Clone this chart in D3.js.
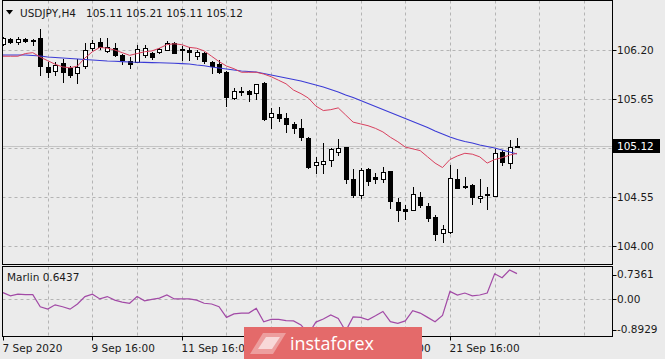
<!DOCTYPE html>
<html lang="en">
<head>
  <meta charset="UTF-8" />
  <title>USDJPY,H4</title>
  <style>
    body { margin: 0; background: #ebebeb; }
    svg { display: block; }
    text { font-family: 'DejaVu Sans', sans-serif; font-size: 10.5px; fill: #1a1a1a; }
    .grid { stroke: #b4b4b4; stroke-width: 1; stroke-dasharray: 3,3; }
    .frame { fill: none; stroke: #000; stroke-width: 1; }
    .wick { stroke: #000; stroke-width: 1; }
  </style>
  <script src="https://d3js.org/d3.v7.min.js"></script>
</head>
<body>
<svg id="chart" width="665" height="359"></svg>
<script>
// H4 bars, oldest first
const opens = [106.267,106.323,106.290,106.323,106.312,106.335,106.009,105.964,106.054,105.998,
  105.942,106.020,106.222,106.290,106.189,106.222,106.144,106.076,106.065,106.144,
  106.166,106.177,106.200,106.278,106.211,106.200,106.133,106.166,106.065,106.043,
  105.953,105.661,105.734,105.740,105.717,105.829,105.448,105.482,105.437,105.369,
  105.324,105.212,104.909,104.920,104.965,105.055,105.111,104.752,104.573,104.864,
  104.775,104.752,104.842,104.494,104.415,104.404,104.550,104.449,104.326,104.146,
  104.157,104.752,104.668,104.685,104.539,104.578,104.561,105.055,104.932,105.11];
const highs = [106.346,106.335,106.346,106.335,106.318,106.436,106.065,106.065,106.099,106.020,
  106.099,106.278,106.312,106.335,106.335,106.278,106.155,106.121,106.256,106.256,
  106.177,106.222,106.301,106.290,106.245,106.234,106.200,106.177,106.076,106.088,
  105.960,105.773,105.785,105.751,105.820,105.841,105.549,105.560,105.493,105.392,
  105.425,105.223,104.999,105.156,105.100,105.201,105.115,104.864,104.876,104.876,
  104.819,104.887,104.845,104.539,104.460,104.662,104.606,104.483,104.348,104.236,
  104.909,104.864,104.775,104.690,104.752,104.662,105.089,105.078,105.190,105.21];
const lows = [106.256,106.278,106.267,106.290,106.256,105.919,105.897,105.919,105.841,105.897,
  105.829,105.998,106.200,106.211,106.177,106.133,106.043,105.998,106.065,106.121,
  106.099,106.166,106.200,106.166,106.088,106.088,106.099,106.054,105.942,105.942,
  105.571,105.650,105.695,105.627,105.650,105.414,105.324,105.403,105.280,105.268,
  105.190,104.876,104.819,104.819,104.898,105.021,104.707,104.550,104.539,104.685,
  104.707,104.718,104.427,104.281,104.303,104.400,104.438,104.281,104.067,104.045,
  104.150,104.651,104.651,104.472,104.494,104.415,104.555,104.909,104.876,105.11];
const closes = [106.335,106.290,106.323,106.301,106.301,106.020,105.953,106.032,105.953,105.919,
  106.009,106.200,106.278,106.234,106.234,106.144,106.088,106.043,106.211,106.222,
  106.121,106.211,106.278,106.166,106.200,106.177,106.177,106.076,106.020,105.953,
  105.672,105.740,105.723,105.706,105.818,105.425,105.493,105.437,105.369,105.324,
  105.223,104.887,104.943,104.954,105.089,105.100,104.752,104.573,104.853,104.730,
  104.752,104.831,104.505,104.404,104.393,104.584,104.460,104.314,104.135,104.191,
  104.763,104.655,104.657,104.550,104.561,104.567,105.044,104.943,105.111,105.12];

// moving averages
const maFast = [106.13,106.13,106.13,106.16,106.17,106.12,106.08,106.04,106.01,106.00,
  106.02,106.11,106.18,106.23,106.22,106.20,106.17,106.14,106.16,106.18,
  106.19,106.22,106.26,106.27,106.26,106.23,106.22,106.19,106.13,106.07,
  106.02,105.99,105.95,105.95,105.95,105.93,105.90,105.86,105.82,105.75,
  105.71,105.66,105.57,105.52,105.53,105.55,105.47,105.39,105.37,105.35,
  105.32,105.28,105.22,105.17,105.11,105.09,105.07,105.00,104.93,104.88,
  104.97,105.01,105.04,105.03,105.00,104.93,104.97,104.99,105.02,105.04];
const maSlow = [106.144,106.144,106.144,106.144,106.138,106.133,106.121,106.116,106.110,106.104,
  106.099,106.093,106.088,106.082,106.076,106.073,106.070,106.065,106.063,106.061,
  106.058,106.056,106.054,106.051,106.047,106.043,106.032,106.024,106.009,105.998,
  105.987,105.975,105.964,105.959,105.953,105.936,105.919,105.902,105.886,105.869,
  105.852,105.829,105.807,105.785,105.757,105.728,105.695,105.667,105.633,105.599,
  105.566,105.532,105.498,105.465,105.431,105.397,105.364,105.330,105.291,105.257,
  105.223,105.195,105.173,105.156,105.134,105.117,105.100,105.078,105.055,105.033];

// Marlin oscillator
const marlin = [0.16,0.08,0.12,0.11,0.11,-0.20,-0.26,-0.15,-0.20,-0.26,
  -0.13,0.06,0.12,0.00,0.06,-0.03,-0.08,-0.11,0.06,-0.05,
  -0.01,0.02,0.10,0.00,0.00,0.00,-0.03,-0.11,-0.13,-0.20,
  -0.47,-0.38,-0.36,-0.36,-0.24,-0.58,-0.52,-0.52,-0.55,-0.56,
  -0.66,-0.8929,-0.59,-0.51,-0.41,-0.50,-0.82,-0.46,-0.47,-0.53,
  -0.43,-0.32,-0.58,-0.62,-0.56,-0.30,-0.36,-0.47,-0.58,-0.42,
  0.19,0.10,0.15,0.08,0.10,0.15,0.64,0.54,0.7361,0.6437];

const gridLevels = [106.20, 105.65, 105.10, 104.55, 104.00];
const priceLabels = [106.20, 105.65, 104.55, 104.00];
const lastPrice = 105.12;
const marlinLabels = [0.7361, 0.00, -0.8929];
const timeLabels = ['7 Sep 2020', '9 Sep 16:00', '11 Sep 16:00', '15 Sep 16:00', '17 Sep 16:00', '21 Sep 16:00'];
const timeLabelBars = [0, 12, 24, 36, 48, 60];
const title = 'USDJPY,H4   105.11 105.21 105.11 105.12';

const main = { left: 2.5, right: 612.5, top: 0.5, bottom: 264.5 };
const sub = { top: 266.5, bottom: 336.5 };

const svg = d3.select('#chart');

const x = d3.scaleLinear().domain([0, closes.length - 1]).range([3, 517]);
const y = d3.scaleLinear().domain([104.00, 106.20]).range([245.9, 50]);
const ym = d3.scaleLinear().domain([-0.8929, 0.7361]).range([334, 270]);

const bars = closes.map((c, i) => ({ i, o: opens[i], h: highs[i], l: lows[i], c }));

svg.append('rect').attr('width', 665).attr('height', 359).attr('fill', '#ebebeb');

const defs = svg.append('defs');
defs.append('clipPath').attr('id', 'clipMain').append('rect')
  .attr('x', main.left).attr('y', main.top)
  .attr('width', main.right - main.left).attr('height', main.bottom - main.top);
defs.append('clipPath').attr('id', 'clipSub').append('rect')
  .attr('x', main.left).attr('y', sub.top)
  .attr('width', main.right - main.left).attr('height', sub.bottom - sub.top);

// vertical grid every 6 bars, continues past the last bar
const gridBars = d3.range(6, 84, 6).filter(b => x(b) < main.right - 2);
[[main.top, main.bottom], [sub.top, sub.bottom]].forEach(([t, b]) => {
  svg.append('g').selectAll('line').data(gridBars).enter().append('line')
    .attr('class', 'grid')
    .attr('x1', d => Math.round(x(d)) + 0.5).attr('x2', d => Math.round(x(d)) + 0.5)
    .attr('y1', t).attr('y2', b);
});

svg.append('g').selectAll('line').data(gridLevels).enter().append('line')
  .attr('class', 'grid')
  .attr('x1', main.left).attr('x2', main.right)
  .attr('y1', d => Math.round(y(d)) + 0.5).attr('y2', d => Math.round(y(d)) + 0.5);

svg.append('line').attr('class', 'grid')
  .attr('x1', main.left).attr('x2', main.right)
  .attr('y1', Math.round(ym(0)) + 0.5).attr('y2', Math.round(ym(0)) + 0.5);

// bid line
svg.append('line')
  .attr('x1', main.left).attr('x2', main.right)
  .attr('y1', Math.round(y(lastPrice)) + 0.5).attr('y2', Math.round(y(lastPrice)) + 0.5)
  .attr('stroke', '#c4c4c4');

// candles
const cg = svg.append('g').attr('clip-path', 'url(#clipMain)');
cg.selectAll('line.wick').data(bars).enter().append('line')
  .attr('class', 'wick')
  .attr('x1', d => Math.round(x(d.i)) + 0.5).attr('x2', d => Math.round(x(d.i)) + 0.5)
  .attr('y1', d => Math.round(y(d.h))).attr('y2', d => Math.round(y(d.l)) + 1);

cg.selectAll('rect.body').data(bars).enter().append('rect')
  .attr('class', 'body')
  .each(function (d) {
    const cx = Math.round(x(d.i));
    const top = Math.round(y(Math.max(d.o, d.c)));
    const bot = Math.round(y(Math.min(d.o, d.c)));
    const el = d3.select(this);
    if (d.c >= d.o && bot - top >= 2) {
      el.attr('x', cx - 1.5).attr('y', top + 0.5).attr('width', 4).attr('height', bot - top)
        .attr('fill', '#fff').attr('stroke', '#000');
    } else {
      el.attr('x', cx - 2).attr('y', top).attr('width', 5).attr('height', Math.max(1, bot - top + 1))
        .attr('fill', '#000');
    }
  });

// moving averages
const lineFast = d3.line().x((d, i) => x(i)).y(d => y(d));
cg.append('path').datum(maSlow).attr('d', lineFast)
  .attr('fill', 'none').attr('stroke', '#3b3bd6').attr('stroke-width', 1.1);
cg.append('path').datum(maFast).attr('d', lineFast)
  .attr('fill', 'none').attr('stroke', '#d8405e').attr('stroke-width', 1);

// Marlin line
svg.append('path').datum(marlin).attr('clip-path', 'url(#clipSub)')
  .attr('d', d3.line().x((d, i) => x(i)).y(d => ym(d)))
  .attr('fill', 'none').attr('stroke', '#a24aa6').attr('stroke-width', 1.2);

// frames
svg.append('rect').attr('class', 'frame')
  .attr('x', main.left).attr('y', main.top)
  .attr('width', main.right - main.left).attr('height', main.bottom - main.top);
svg.append('rect').attr('class', 'frame')
  .attr('x', main.left).attr('y', sub.top)
  .attr('width', main.right - main.left).attr('height', sub.bottom - sub.top);

// right price axis
const pa = svg.append('g');
pa.selectAll('line').data(priceLabels).enter().append('line')
  .attr('x1', main.right).attr('x2', main.right + 4)
  .attr('y1', d => Math.round(y(d)) + 0.5).attr('y2', d => Math.round(y(d)) + 0.5)
  .attr('stroke', '#000');
pa.selectAll('text').data(priceLabels).enter().append('text')
  .attr('x', 617).attr('y', d => y(d)).attr('dy', '0.36em')
  .text(d => d.toFixed(2));

const yl = Math.round(y(lastPrice));
svg.append('rect').attr('x', 613).attr('y', yl - 7).attr('width', 47).attr('height', 14).attr('fill', '#000');
svg.append('text').attr('x', 617).attr('y', yl).attr('dy', '0.36em')
  .style('fill', '#fff').text(lastPrice.toFixed(2));

// indicator axis
const ma = svg.append('g');
const clampY = v => Math.max(sub.top + 8, Math.min(sub.bottom - 7, ym(v)));
ma.selectAll('line').data(marlinLabels).enter().append('line')
  .attr('x1', main.right).attr('x2', main.right + 4)
  .attr('y1', d => Math.round(clampY(d)) + 0.5).attr('y2', d => Math.round(clampY(d)) + 0.5)
  .attr('stroke', '#000');
ma.selectAll('text').data(marlinLabels).enter().append('text')
  .attr('x', 617).attr('y', d => clampY(d)).attr('dy', '0.36em')
  .text(d => (d === 0 ? '0.00' : d.toFixed(4)));

// time axis
const ta = svg.append('g');
ta.selectAll('line').data(timeLabelBars).enter().append('line')
  .attr('x1', d => Math.round(x(d)) + 0.5).attr('x2', d => Math.round(x(d)) + 0.5)
  .attr('y1', sub.bottom).attr('y2', sub.bottom + 4)
  .attr('stroke', '#000');
ta.selectAll('text').data(timeLabels).enter().append('text')
  .attr('x', (d, i) => Math.max(2, Math.round(x(timeLabelBars[i])) - 0.5))
  .attr('y', 352)
  .text(d => d);

// titles
svg.append('path').attr('d', 'M6,10 L13,10 L9.5,14.5 Z').attr('fill', '#000');
svg.append('text').attr('x', 20).attr('y', 17).style('white-space', 'pre').text(title);
svg.append('text').attr('x', 7).attr('y', 281).text('Marlin ' + marlin[marlin.length - 1].toFixed(4));

// watermark
const wm = svg.append('g');
wm.append('rect').attr('x', 244).attr('y', 327).attr('width', 178).attr('height', 36)
  .attr('fill', '#e46a6a');
wm.append('path').attr('d', 'M250,354 L263,333 L286,333 L273,354 Z')
  .attr('fill', '#ffffff').attr('opacity', 0.35);
wm.append('path').attr('d', 'M258,349 L266,337 L280,337 L272,349 Z')
  .attr('fill', '#ffffff').attr('opacity', 0.6);
wm.append('text').attr('x', 290).attr('y', 350)
  .attr('textLength', 84).attr('lengthAdjust', 'spacingAndGlyphs')
  .style('font-family', "'Open Sans', sans-serif").style('font-size', '19px')
  .style('fill', '#fff').text('instaforex');
</script>
</body>
</html>
